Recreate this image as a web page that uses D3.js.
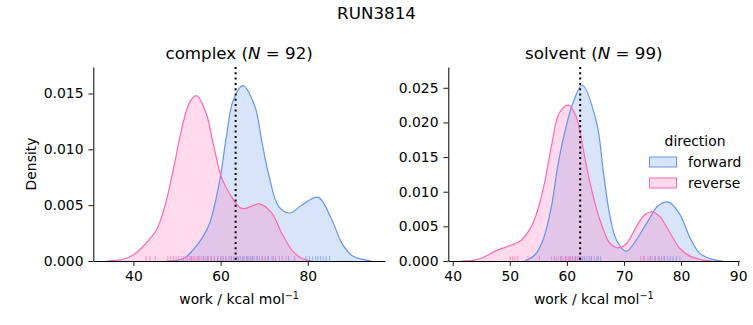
<!DOCTYPE html>
<html><head><meta charset="utf-8">
<script src="https://cdn.jsdelivr.net/npm/d3@7"></script>
<style>
body{margin:0;background:#fff;}
svg{display:block;font-family:"DejaVu Sans",sans-serif;}
</style></head>
<body><svg id="c" width="753" height="325"></svg>
<script>
// ---------- data ----------
const figTitle = "RUN3814";
const directions = ["forward", "reverse"];
const colors = ["#6495ED", "#FF69B4"];

// complex panel: KDE curves [work, density]
const complexForward = [[47.5,0],[51.4,0.0002],[53.7,0.0010],[56.0,0.0022],[57.5,0.0034],[59.8,0.0072],[61.3,0.0111],[62.9,0.0144],[65.1,0.0157],[67.9,0.0138],[69.4,0.0108],[71.0,0.0078],[73.3,0.0049],[75.9,0.0043],[78.6,0.0050],[82.4,0.0057],[85.5,0.0037],[87.8,0.0016],[90.1,0.0005],[93.1,0.0001],[94.5,0]];
const complexReverse = [[33.9,0],[36.0,0.00005],[38.4,0.00025],[40.5,0.0007],[42.2,0.0013],[45.3,0.0028],[47.2,0.0049],[49.1,0.0081],[51.0,0.0117],[52.9,0.0142],[54.5,0.0148],[56.7,0.0132],[58.3,0.0105],[60.2,0.0075],[62.1,0.0060],[64.4,0.0048],[65.6,0.0047],[67.0,0.0049],[69.1,0.0051],[71.7,0.0043],[74.0,0.0025],[76.3,0.0010],[78.6,0.00024],[81.0,0]];
// solvent panel
const solventForward = [[52.6,0],[54.4,0.0009],[55.8,0.0030],[57.3,0.0079],[58.4,0.0137],[59.6,0.0185],[61.1,0.0229],[62.7,0.0254],[65.2,0.0200],[66.4,0.0128],[67.5,0.0067],[68.7,0.0030],[70.4,0.0014],[71.8,0.0026],[74.3,0.0059],[75.9,0.0079],[77.8,0.0085],[79.8,0.0067],[81.6,0.0033],[83.3,0.0011],[85.6,0.0002],[87.3,0]];
const solventReverse = [[41.5,0],[43.5,0.0001],[45.0,0.0004],[47.9,0.0016],[50.3,0.0023],[52.0,0.0030],[53.8,0.0050],[54.9,0.0074],[56.1,0.0113],[57.3,0.0166],[58.7,0.0214],[60.3,0.0225],[61.6,0.0209],[63.1,0.0151],[64.0,0.0115],[65.2,0.0075],[66.4,0.0045],[67.5,0.0026],[69.1,0.0019],[70.5,0.0026],[72.2,0.0050],[73.7,0.0067],[75.0,0.0071],[76.3,0.0064],[78.1,0.0040],[79.8,0.0018],[81.6,0.0007],[83.9,0.00014],[85.5,0]];

// rug samples
const complexForwardRug = [53.2,55.0,56.1,57.0,57.8,58.5,59.3,60.0,60.6,61.2,61.9,62.5,63.0,63.6,64.1,64.5,65.0,65.4,65.9,66.3,66.8,67.2,67.7,68.3,68.9,69.5,70.2,71.0,71.8,72.6,74.1,75.6,77.0,79.6,80.4,81.1,81.8,82.3,82.9,83.5,84.2,85.0];
const complexReverseRug = [42.9,43.8,45.0,47.9,48.5,49.2,49.8,50.4,51.0,51.5,52.0,52.4,52.9,53.3,53.7,54.1,54.6,55.0,55.5,56.0,56.6,57.2,57.9,58.6,59.4,60.3,61.2,62.4,63.8,65.1,66.2,67.3,68.5,69.6,70.8,72.1,73.5,75.0];
const solventForwardRug = [57.8,59.0,59.8,60.5,61.0,61.5,61.9,62.3,62.7,63.1,63.5,63.9,64.3,64.8,65.3,65.9,73.5,74.6,75.4,76.0,76.6,77.1,77.6,78.1,78.6,79.2,79.8];
const solventReverseRug = [50.1,50.5,50.9,51.4,53.2,55.2,57.3,58.1,58.5,58.9,59.3,59.7,60.0,60.3,60.7,61.0,61.4,61.8,62.2,63.0,64.2,65.5,72.9,73.4,74.2,74.9,75.5,76.2,77.0];

const panelNames = ["complex", "solvent"];
const panelN = [92, 99];
const markers = [63.44, 62.33];
const xTicksComplex = [40, 60, 80];
const xTicksSolvent = [40, 50, 60, 70, 80, 90];
const yTicksComplex = [0, 0.005, 0.010, 0.015];
const yTicksSolvent = [0, 0.005, 0.010, 0.015, 0.020, 0.025];

// ---------- drawing ----------
const svg = d3.select("#c");
const FS = 13.9;

svg.append("text").attr("x", 376.5).attr("y", 19).attr("text-anchor","middle")
  .attr("font-size", 16.7).text(figTitle);

const panels = [
  {name: panelNames[0], n: panelN[0], marker: markers[0], curves:[complexForward, complexReverse], rugs:[complexForwardRug, complexReverseRug],
   xd:[30.8, 97.7], xr:[93.3, 385], yd:[0, 0.01737], xt:xTicksComplex, yt:yTicksComplex, ylabel:true},
  {name: panelNames[1], n: panelN[1], marker: markers[1], curves:[solventForward, solventReverse], rugs:[solventForwardRug, solventReverseRug],
   xd:[39.23, 90.2], xr:[448.3, 739.3], yd:[0, 0.0280], xt:xTicksSolvent, yt:yTicksSolvent, ylabel:false}
];
const yRange = [261, 67];

panels.forEach(p => {
  const x = d3.scaleLinear().domain(p.xd).range(p.xr);
  const y = d3.scaleLinear().domain(p.yd).range(yRange);
  const g = svg.append("g");
  const clipId = "clip" + p.name;
  svg.append("clipPath").attr("id", clipId).append("rect")
    .attr("x", p.xr[0]).attr("y", yRange[1]).attr("width", p.xr[1]-p.xr[0]).attr("height", yRange[0]-yRange[1]);

  const curve = d3.curveCatmullRom.alpha(0.5);
  const area = d3.area().x(d=>x(d[0])).y0(y(0)).y1(d=>y(d[1])).curve(curve);
  const line = d3.line().x(d=>x(d[0])).y(d=>y(d[1])).curve(curve);

  const cg = g.append("g").attr("clip-path", `url(#${clipId})`);
  p.curves.forEach((c,i) => {
    cg.append("path").attr("d", area(c)).attr("fill", colors[i]).attr("fill-opacity", 0.25).attr("stroke","none");
  });
  p.curves.forEach((c,i) => {
    cg.append("path").attr("d", line(c)).attr("fill","none").attr("stroke", colors[i]).attr("stroke-width", 1.2);
  });
  // rugs
  const rugH = (yRange[0]-yRange[1]) * 0.025;
  p.rugs.forEach((r,i) => {
    g.selectAll(null).data(r).enter().append("line")
      .attr("x1", d=>x(d)).attr("x2", d=>x(d))
      .attr("y1", y(0)).attr("y2", y(0)-rugH)
      .attr("stroke", colors[i]).attr("stroke-opacity", 0.65).attr("stroke-width", 1);
  });
  // marker line
  g.append("line").attr("x1", x(p.marker)).attr("x2", x(p.marker))
    .attr("y1", yRange[1]).attr("y2", yRange[0])
    .attr("stroke","#000").attr("stroke-width", 2).attr("stroke-dasharray","2,3.3");

  // axes
  const xa = g.append("g").attr("transform", `translate(0,${yRange[0]})`)
    .call(d3.axisBottom(x).tickValues(p.xt).tickFormat(d3.format("d")).tickSizeInner(4.9).tickSizeOuter(0).tickPadding(4.9));
  const ya = g.append("g").attr("transform", `translate(${p.xr[0]},0)`)
    .call(d3.axisLeft(y).tickValues(p.yt).tickFormat(d3.format(".3f")).tickSizeInner(4.9).tickSizeOuter(0).tickPadding(4.9));
  [xa, ya].forEach(a => {
    a.selectAll("text").attr("font-size", FS).attr("font-family","DejaVu Sans").attr("fill","#000");
    a.selectAll("line").attr("stroke","#000").attr("stroke-width",0.9);
    a.select(".domain").attr("stroke","#000").attr("stroke-width",1);
  });

  // title
  const cx = (p.xr[0]+p.xr[1])/2;
  const t = g.append("text").attr("x", cx).attr("y", 59).attr("text-anchor","middle").attr("font-size", 16.7);
  t.append("tspan").text(p.name + " (");
  t.append("tspan").attr("font-style","italic").text("N");
  t.append("tspan").text(" = " + p.n + ")");

  // x label
  const xl = g.append("text").attr("x", cx).attr("y", 304).attr("text-anchor","middle").attr("font-size", FS);
  xl.append("tspan").text("work / kcal mol");
  xl.append("tspan").attr("dy", -5.5).attr("font-size", 9.7).text("\u22121");

  if (p.ylabel) {
    g.append("text").attr("transform", `translate(35.5,${(yRange[0]+yRange[1])/2}) rotate(-90)`)
      .attr("text-anchor","middle").attr("font-size", FS).text("Density");
  }
});

// legend
const lg = svg.append("g");
lg.append("text").attr("x", 695).attr("y", 146).attr("text-anchor","middle").attr("font-size", FS).text("direction");
directions.forEach((d,i) => {
  const yy = 157 + i*21;
  lg.append("rect").attr("x", 649.5).attr("y", yy).attr("width", 27).attr("height", 10)
    .attr("fill", colors[i]).attr("fill-opacity", 0.25).attr("stroke", colors[i]).attr("stroke-width", 1);
  lg.append("text").attr("x", 688).attr("y", yy + 10).attr("font-size", FS).text(d);
});
</script></body></html>
